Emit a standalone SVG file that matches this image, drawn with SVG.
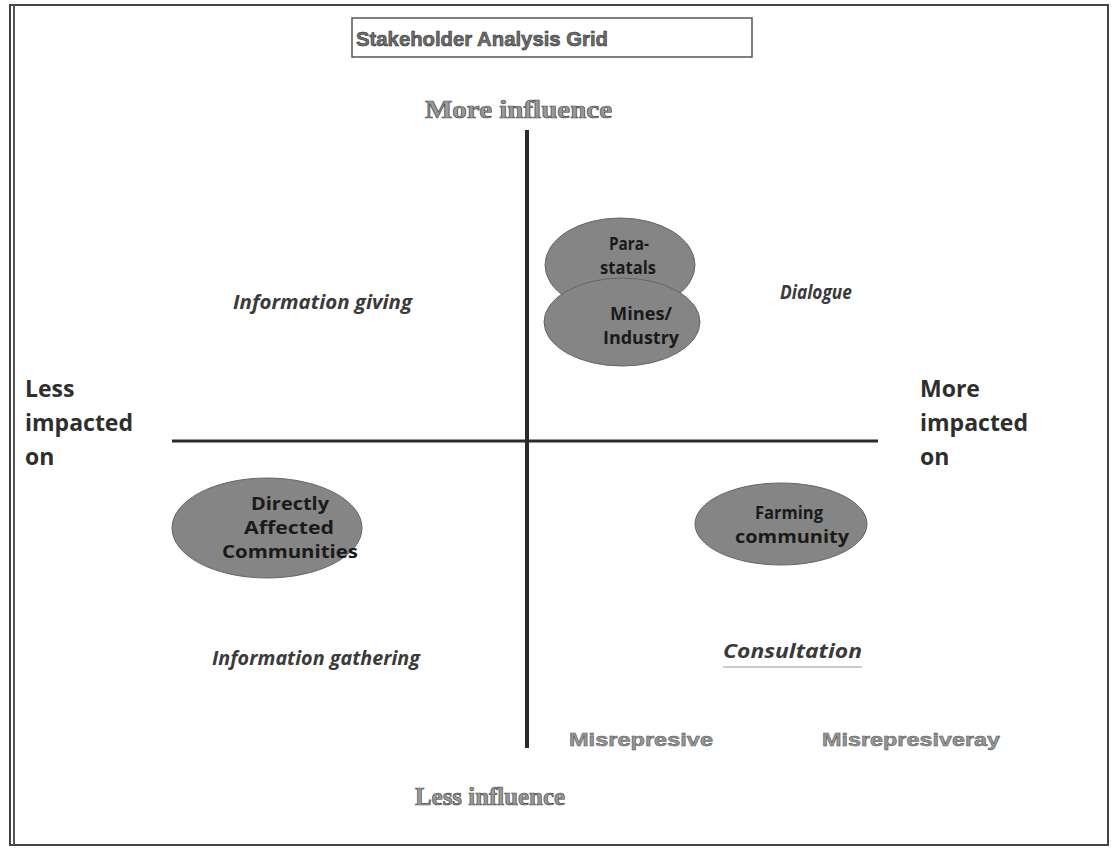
<svg xmlns="http://www.w3.org/2000/svg" width="1116" height="849" viewBox="0 0 1116 849">
  <style>
    .frame { fill: none; stroke: #444; stroke-width: 2; }
    .axis { stroke: #2a2a2a; fill: none; }
    .blob { fill: #858585; stroke: #666; stroke-width: 1; }
    .blob-text { font-family: "Open Sans", "Liberation Sans", sans-serif; font-weight: bold; font-size: 17px; fill: #1a1a1a; text-anchor: middle; }
    .quad { font-family: "Open Sans", "Liberation Sans", sans-serif; font-weight: bold; font-style: italic; font-size: 19px; fill: #3a3a3a; }
    .side { font-family: "Open Sans", "Liberation Sans", sans-serif; font-weight: bold; font-size: 23px; fill: #2e2e2e; }
    .axis-label { font-family: "Liberation Serif", "Times New Roman", serif; font-weight: bold; font-size: 26px; fill: #9a9a9a; stroke: #4a4a4a; stroke-width: 0.7; }
    .title { font-family: "Liberation Sans", Arial, sans-serif; font-weight: bold; font-size: 21px; fill: #6e6e6e; stroke: #333; stroke-width: 0.6; }
    .note { font-family: "Liberation Sans", Arial, sans-serif; font-weight: bold; font-size: 18px; fill: #999; stroke: #555; stroke-width: 0.5; }
  </style>

  <rect width="1116" height="849" fill="#ffffff"/>

  <!-- page frame -->
  <g id="frame">
    <rect class="frame" x="10" y="5" width="1098" height="840"/>
    <line x1="14" y1="5" x2="14" y2="845" stroke="#555" stroke-width="2"/>
  </g>

  <!-- title -->
  <g id="title">
    <rect x="352" y="18" width="400" height="39" fill="none" stroke="#555" stroke-width="1.5"/>
    <text class="title" x="356" y="46" textLength="252" lengthAdjust="spacingAndGlyphs">Stakeholder Analysis Grid</text>
  </g>

  <!-- axes -->
  <g id="connectors">
    <line class="axis" x1="527" y1="130" x2="527" y2="748" stroke-width="4"/>
    <line class="axis" x1="172" y1="441" x2="878" y2="441" stroke-width="3"/>
  </g>

  <g id="axis-more-influence">
    <text class="axis-label" x="425" y="118" textLength="187" lengthAdjust="spacingAndGlyphs">More influence</text>
  </g>
  <g id="axis-less-influence">
    <text class="axis-label" x="415" y="805" textLength="150" lengthAdjust="spacingAndGlyphs">Less influence</text>
  </g>

  <g id="axis-less-impacted">
    <text class="side" x="25" y="397">Less</text>
    <text class="side" x="25" y="431">impacted</text>
    <text class="side" x="25" y="465">on</text>
  </g>
  <g id="axis-more-impacted">
    <text class="side" x="920" y="397">More</text>
    <text class="side" x="920" y="431">impacted</text>
    <text class="side" x="920" y="465">on</text>
  </g>

  <!-- quadrant labels -->
  <g id="quad-information-giving">
    <text class="quad" x="233" y="309" textLength="179" lengthAdjust="spacingAndGlyphs">Information giving</text>
  </g>
  <g id="quad-dialogue">
    <text class="quad" x="780" y="299" textLength="72" lengthAdjust="spacingAndGlyphs">Dialogue</text>
  </g>
  <g id="quad-information-gathering">
    <text class="quad" x="212" y="665" textLength="208" lengthAdjust="spacingAndGlyphs">Information gathering</text>
  </g>
  <g id="quad-consultation">
    <text class="quad" x="723" y="658" textLength="139" lengthAdjust="spacingAndGlyphs">Consultation</text>
    <line x1="723" y1="667" x2="862" y2="667" stroke="#999" stroke-width="1"/>
  </g>

  <!-- stakeholder groups -->
  <g id="node-parastatals">
    <ellipse class="blob" cx="620" cy="265" rx="75" ry="47"/>
    <text class="blob-text" x="629" y="250" textLength="40" lengthAdjust="spacingAndGlyphs">Para-</text>
    <text class="blob-text" x="628" y="274" textLength="56" lengthAdjust="spacingAndGlyphs">statals</text>
  </g>
  <g id="node-mines-industry">
    <ellipse class="blob" cx="622" cy="322" rx="78" ry="44"/>
    <text class="blob-text" x="641" y="320" textLength="62" lengthAdjust="spacingAndGlyphs">Mines/</text>
    <text class="blob-text" x="641" y="344" textLength="76" lengthAdjust="spacingAndGlyphs">Industry</text>
  </g>
  <g id="node-directly-affected">
    <ellipse class="blob" cx="267" cy="528" rx="95" ry="50"/>
    <text class="blob-text" x="290" y="510" textLength="78" lengthAdjust="spacingAndGlyphs">Directly</text>
    <text class="blob-text" x="289" y="534" textLength="90" lengthAdjust="spacingAndGlyphs">Affected</text>
    <text class="blob-text" x="290" y="558" textLength="136" lengthAdjust="spacingAndGlyphs">Communities</text>
  </g>
  <g id="node-farming-community">
    <ellipse class="blob" cx="781" cy="524" rx="86" ry="41"/>
    <text class="blob-text" x="789" y="519" textLength="68" lengthAdjust="spacingAndGlyphs">Farming</text>
    <text class="blob-text" x="792" y="543" textLength="114" lengthAdjust="spacingAndGlyphs">community</text>
  </g>

  <!-- footer notes -->
  <g id="note-left">
    <text class="note" x="569" y="746" textLength="144" lengthAdjust="spacingAndGlyphs">Misrepresive</text>
  </g>
  <g id="note-right">
    <text class="note" x="822" y="746" textLength="178" lengthAdjust="spacingAndGlyphs">Misrepresiveray</text>
  </g>
</svg>
